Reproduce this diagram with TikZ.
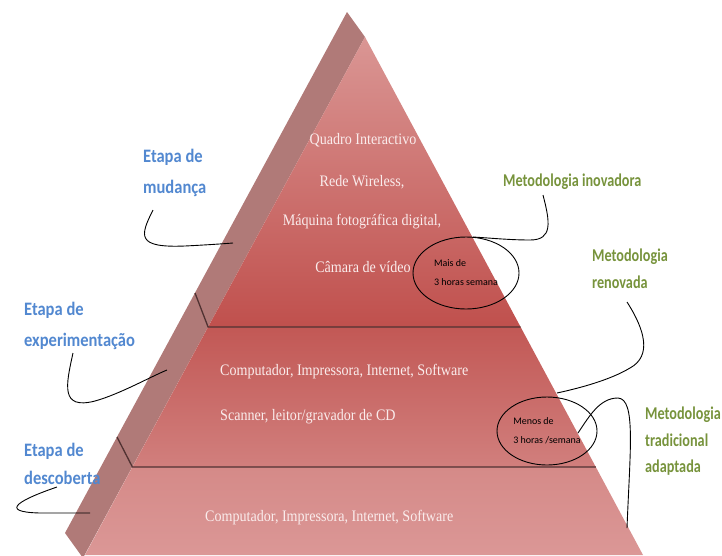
\documentclass[tikz,border=0pt]{standalone}
\usepackage{fontspec}
\setmainfont{Liberation Serif}
\newfontfamily\calfont{Carlito}
\usetikzlibrary{shapes.geometric}
\definecolor{stripc}{RGB}{176,122,120}
\definecolor{pinkl}{RGB}{218,150,148}
\definecolor{redd}{RGB}{192,80,77}
\definecolor{redm}{RGB}{194,88,85}
\definecolor{midb}{RGB}{209,127,125}
\definecolor{bott}{RGB}{213,138,136}
\definecolor{botb}{RGB}{219,151,150}
\definecolor{pyrtext}{RGB}{250,236,236}
\definecolor{bluelab}{RGB}{82,136,208}
\definecolor{greenlab}{RGB}{119,147,60}
\definecolor{tierline}{RGB}{80,50,50}
\tikzset{
  pyr/.style={text=pyrtext, font=\fontsize{16}{16}\selectfont, xscale=0.88, inner sep=0pt},
  bluel/.style={text=bluelab, font=\calfont\bfseries\fontsize{19}{31}\selectfont, align=left, xscale=0.87, inner sep=0pt, anchor=west},
  greenl/.style={text=greenlab, font=\calfont\bfseries\fontsize{18}{27}\selectfont, align=left, xscale=0.79, inner sep=0pt, anchor=west},
  ell/.style={ellipse, draw=black, line width=0.9pt, inner sep=0pt, align=left, font=\calfont\fontsize{10}{19}\selectfont, text=black},
  conn/.style={draw=black, line width=0.9pt},
  tier/.style={draw=tierline, line width=1.3pt}
}
\begin{document}
\begin{tikzpicture}[x=1pt,y=-1pt]
\useasboundingbox (0,0) rectangle (722,555);
\clip (0,0) rectangle (722,555);
% side strip
\fill[stripc] (347,12) -- (365,37) -- (83,558) -- (65,533) -- cycle;
% tiers
\shade[top color=pinkl, bottom color=redd] (365,37) -- (520.6,327) -- (208.1,327) -- cycle;
\shade[top color=redm, bottom color=midb] (208.1,327) -- (520.6,327) -- (595.8,467) -- (132.4,467) -- cycle;
\shade[top color=bott, bottom color=botb] (132.4,467) -- (595.8,467) -- (643,555) -- (85,555) -- cycle;
% tier lines
\draw[tier] (195,293) -- (208.1,327) -- (520.6,327);
\draw[tier] (117,437) -- (132.4,467) -- (595.8,467);
% pyramid texts
\node[pyr] (t1) at (363,140) {Quadro Interactivo};
\node[pyr] (t2) at (362,182) {Rede Wireless,};
\node[pyr] (t3) at (362,222) {Máquina fotográfica digital,};
\node[pyr] (t4) at (363,267) {Câmara de vídeo};
\node[pyr, anchor=west] (m1) at (220,372) {Computador, Impressora, Internet, Software};
\node[pyr, anchor=west] (m2) at (220,417) {Scanner, leitor/gravador de CD};
\node[pyr, anchor=west] (b1) at (205,518) {Computador, Impressora, Internet, Software};
% ellipses
\node[ell, minimum width=106pt, minimum height=72pt] (e1) at (466,273) {Mais de\\3 horas semana};
\node[ell, minimum width=100pt, minimum height=68pt] (e2) at (547,431) {Menos de\\3 horas /semana};
% left labels
\node[bluel] (lm) at (143,172.5) {Etapa de\\mudança};
\node[bluel] (le) at (24,326) {Etapa de\\experimentação};
\node[bluel, font=\calfont\bfseries\fontsize{19}{28}\selectfont] (ld) at (24,464) {Etapa de\\descoberta};
% right labels
\node[greenl] (ri) at (503,182) {Metodologia inovadora};
\node[greenl] (rr) at (592,268.5) {Metodologia\\renovada};
\node[greenl, font=\calfont\bfseries\fontsize{18}{26.5}\selectfont] (rt) at (645,441.5) {Metodologia\\tradicional\\adaptada};
% connector endpoints
\coordinate (c1s) at (153,210); \coordinate (c1e) at (233,243);
\coordinate (c2s) at (73,353);  \coordinate (c2e) at (167,370);
\coordinate (c3s) at (57,487);  \coordinate (c3e) at (90,513);
\coordinate (c4s) at (543,195); \coordinate (c4e) at (473,237);
\coordinate (c5s) at (627,302); \coordinate (c5e) at (557,393);
\coordinate (c6s) at (627,528); \coordinate (c6e) at (578,433);
% connectors
\draw[conn] (c1s) .. controls (140,236) and (136,248) .. (185,246) .. controls (205,245) and (220,244) .. (c1e);
\draw[conn] (c2s) .. controls (66,385) and (60,410) .. (95,401) .. controls (120,394) and (150,377) .. (c2e);
\draw[conn] (c3s) .. controls (22,499) and (-4,512) .. (40,513) .. controls (60,513) and (75,513) .. (c3e);
\draw[conn] (c4s) .. controls (550,222) and (553,240) .. (530,240) .. controls (510,240) and (490,238) .. (c4e);
\draw[conn] (c5s) .. controls (645,330) and (652,356) .. (630,368) .. controls (610,380) and (580,388) .. (c5e);
\draw[conn] (c6s) .. controls (630,450) and (636,399) .. (618,398) .. controls (600,398) and (590,415) .. (c6e);
\end{tikzpicture}
\end{document}
